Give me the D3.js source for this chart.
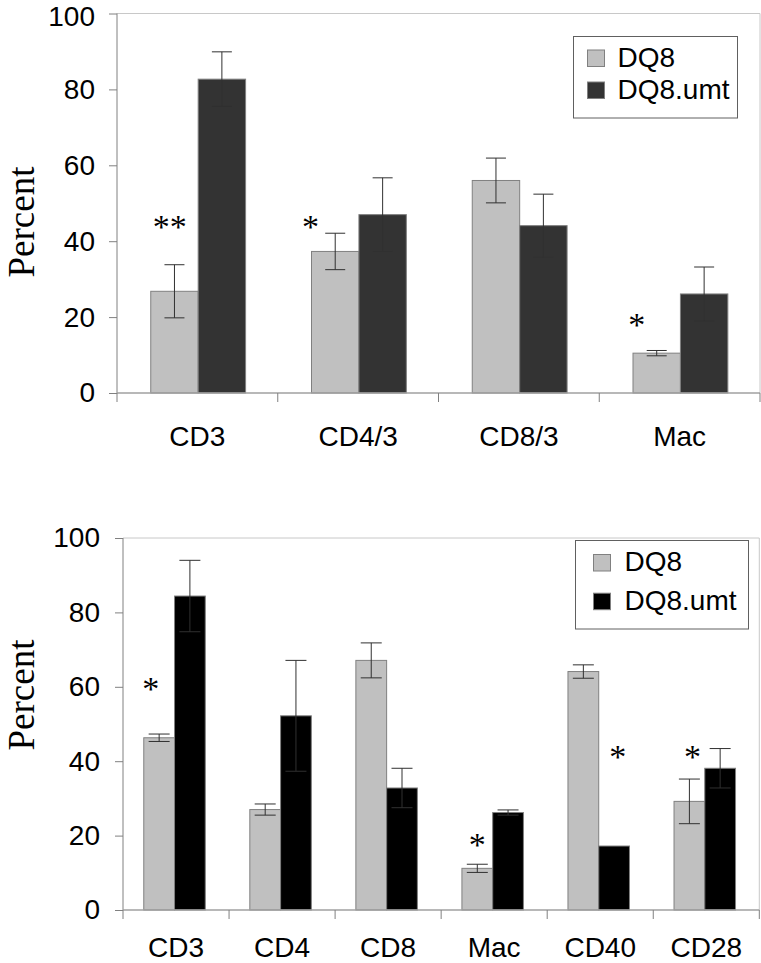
<!DOCTYPE html>
<html>
<head>
<meta charset="utf-8">
<script src="https://cdn.jsdelivr.net/npm/d3@7"></script>
<style>
  html, body { margin: 0; padding: 0; background: #fff; }
  svg { display: block; }
</style>
</head>
<body>
<svg id="chart" width="761" height="963"></svg>
<script>
// ---------- DATA ----------
const seriesNames = ["DQ8", "DQ8.umt"];
const yTicks = [0, 20, 40, 60, 80, 100];

const topCategories = ["CD3", "CD4/3", "CD8/3", "Mac"];
const topDQ8       = [26.8, 37.3, 56.0, 10.5];
const topDQ8Err    = [7.0, 4.8, 5.9, 0.7];
const topUmt       = [82.7, 47.0, 44.1, 26.1];
const topUmtErr    = [7.2, 9.7, 8.3, 7.1];

const topAnnotCats  = ["CD3", "CD4/3", "Mac"];
const topAnnotText  = ["**", "*", "*"];
const topAnnotValue = [45.1, 45.1, 19.2];
const topAnnotSlot  = [-0.1, -0.52, -0.42];   // in bar widths, relative to DQ8 bar centre

const bottomCategories = ["CD3", "CD4", "CD8", "Mac", "CD40", "CD28"];
const bottomDQ8        = [46.3, 27.0, 67.1, 11.2, 64.1, 29.2];
const bottomDQ8Err     = [1.0, 1.5, 4.7, 1.1, 1.8, 6.0];
const bottomUmt        = [84.4, 52.2, 32.8, 26.2, 17.2, 38.1];
const bottomUmtErr     = [9.6, 14.9, 5.3, 0.7, 0, 5.3];

const bottomAnnotCats  = ["CD3", "Mac", "CD40", "CD28"];
const bottomAnnotText  = ["*", "*", "*", "*"];
const bottomAnnotValue = [60.8, 18.7, 42.5, 42.5];
const bottomAnnotSlot  = [-0.27, 0, 1.12, 0.1];

// ---------- DRAW ----------
const svg = d3.select("#chart");
const sans = "'Liberation Sans', Arial, sans-serif";
const serif = "'Liberation Serif', 'Times New Roman', serif";

function panel(cfg) {
  const g = svg.append("g");
  const x = d3.scaleBand().domain(cfg.categories).range([cfg.left, cfg.right]).padding(0);
  const y = d3.scaleLinear().domain([0, 100]).range([cfg.bottom, cfg.top]);
  const bw = x.bandwidth() * cfg.barFrac;
  const groupOff = (x.bandwidth() - 2 * bw) / 2 + cfg.shift;

  // plot frame (top, right)
  g.append("path")
    .attr("d", `M${cfg.left},${cfg.top}H${cfg.right}V${cfg.bottom}`)
    .attr("fill", "none").attr("stroke", "#c8c8c8").attr("stroke-width", 1);

  const series = [
    { name: seriesNames[0], vals: cfg.s1, errs: cfg.e1, fill: cfg.c1 },
    { name: seriesNames[1], vals: cfg.s2, errs: cfg.e2, fill: cfg.c2 }
  ];

  // bars
  series.forEach((s, si) => {
    g.append("g").selectAll("rect")
      .data(cfg.categories.map((c, i) => ({ c, v: s.vals[i] })))
      .join("rect")
      .attr("x", d => x(d.c) + groupOff + si * bw)
      .attr("y", d => y(d.v))
      .attr("width", bw)
      .attr("height", d => y(0) - y(d.v))
      .attr("fill", s.fill)
      .attr("stroke", "#808080")
      .attr("stroke-width", 1);
  });

  // error bars
  series.forEach((s, si) => {
    const eg = g.append("g").attr("stroke", "#303030").attr("stroke-width", 1).attr("fill", "none");
    cfg.categories.forEach((c, i) => {
      const e = s.errs[i];
      if (!e) return;
      const cx = x(c) + groupOff + si * bw + bw / 2;
      const y1 = y(s.vals[i] + e), y2 = y(s.vals[i] - e);
      const hw = cfg.cap / 2;
      eg.append("path").attr("d",
        `M${cx},${y1}V${y2}M${cx - hw},${y1}H${cx + hw}M${cx - hw},${y2}H${cx + hw}`);
    });
  });

  // y axis
  const yAxis = d3.axisLeft(y).tickValues(yTicks).tickSize(8).tickPadding(cfg.tickPad).tickFormat(d3.format("d"));
  const ya = g.append("g").attr("transform", `translate(${cfg.left},0)`).call(yAxis);
  ya.select(".domain").attr("stroke", "#808080").attr("d", `M0,${cfg.top}V${cfg.bottom}`);
  ya.selectAll(".tick line").attr("stroke", "#808080");
  ya.selectAll(".tick text").attr("font-family", sans).attr("font-size", 28).attr("fill", "#000")
    .attr("y", d => (d === 100 ? cfg.topLabelNudge : 0));

  // x axis line and boundary ticks
  g.append("line")
    .attr("x1", cfg.left).attr("x2", cfg.right)
    .attr("y1", cfg.bottom).attr("y2", cfg.bottom)
    .attr("stroke", "#a0a0a0").attr("stroke-width", 1.5);
  const bounds = cfg.categories.map(c => x(c)).concat([cfg.right]);
  g.append("g").selectAll("line").data(bounds).join("line")
    .attr("x1", d => d).attr("x2", d => d)
    .attr("y1", cfg.bottom).attr("y2", cfg.bottom + 9)
    .attr("stroke", "#808080").attr("stroke-width", 1);

  // category labels
  g.append("g").selectAll("text").data(cfg.categories).join("text")
    .attr("x", d => x(d) + x.bandwidth() / 2 + cfg.labelShift)
    .attr("y", cfg.bottom + cfg.labelDy)
    .attr("text-anchor", "middle")
    .attr("font-family", sans).attr("font-size", 28).attr("fill", "#000")
    .text(d => d);

  // y title
  g.append("text")
    .attr("transform", `translate(${cfg.titleX},${cfg.titleY}) rotate(-90)`)
    .attr("text-anchor", "middle")
    .attr("font-family", serif).attr("font-size", 37).attr("fill", "#000")
    .text("Percent");

  // annotations
  const afs = 34;
  g.append("g").selectAll("text")
    .data(cfg.annCats.map((c, i) => ({ c, t: cfg.annText[i], v: cfg.annVal[i], s: cfg.annSlot[i] })))
    .join("text")
    .attr("x", d => x(d.c) + groupOff + bw / 2 + d.s * bw)
    .attr("y", d => y(d.v) + afs * 0.47)
    .attr("text-anchor", "middle")
    .attr("font-family", serif).attr("font-size", afs).attr("fill", "#000")
    .text(d => d.t);

  // legend
  const L = cfg.legend;
  const lg = g.append("g");
  lg.append("rect").attr("x", L.x).attr("y", L.y).attr("width", L.w).attr("height", L.h)
    .attr("fill", "#fff").attr("stroke", "#606060").attr("stroke-width", 1);
  series.forEach((s, si) => {
    const base = L.y + L.firstBase + si * L.step;
    lg.append("rect").attr("x", L.x + L.swX).attr("y", base - 16.5)
      .attr("width", 17).attr("height", 16.5)
      .attr("fill", s.fill).attr("stroke", "#808080").attr("stroke-width", 1);
    lg.append("text").attr("x", L.x + L.txX).attr("y", base)
      .attr("font-family", sans).attr("font-size", 28).attr("fill", "#000")
      .text(s.name);
  });
}

panel({
  categories: topCategories, s1: topDQ8, e1: topDQ8Err, s2: topUmt, e2: topUmtErr,
  c1: "#c0c0c0", c2: "#333333",
  left: 117, right: 760, top: 13.5, bottom: 393,
  barFrac: 0.295, shift: 0.8, cap: 20, tickPad: 14, topLabelNudge: 3.5,
  labelDy: 53, labelShift: 0,
  titleX: 33.5, titleY: 222,
  annCats: topAnnotCats, annText: topAnnotText, annVal: topAnnotValue, annSlot: topAnnotSlot,
  legend: { x: 573.5, y: 36.5, w: 164, h: 81.5, swX: 14, txX: 44, firstBase: 30, step: 32 }
});

panel({
  categories: bottomCategories, s1: bottomDQ8, e1: bottomDQ8Err, s2: bottomUmt, e2: bottomUmtErr,
  c1: "#c0c0c0", c2: "#000000",
  left: 123, right: 759.3, top: 538, bottom: 910,
  barFrac: 0.29, shift: -1.5, cap: 21, tickPad: 15, topLabelNudge: 0,
  labelDy: 46.5, labelShift: 0,
  titleX: 33.5, titleY: 695,
  annCats: bottomAnnotCats, annText: bottomAnnotText, annVal: bottomAnnotValue, annSlot: bottomAnnotSlot,
  legend: { x: 575.5, y: 540.5, w: 173, h: 88.5, swX: 18, txX: 49, firstBase: 30.5, step: 38.7 }
});
</script>
</body>
</html>
